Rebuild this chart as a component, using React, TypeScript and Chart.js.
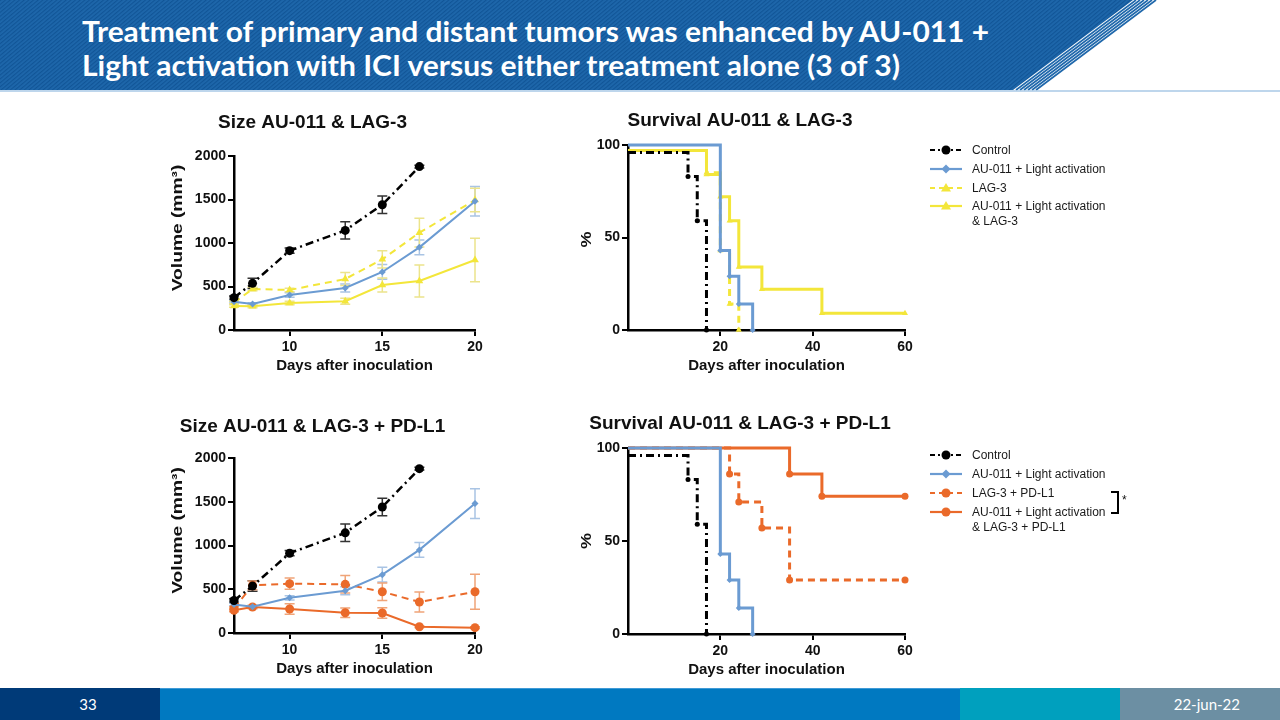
import React, { useEffect, useRef } from "react";
import { Chart, registerables } from "chart.js";

Chart.register(...registerables);

const FONT = "'Liberation Sans', Arial, sans-serif";
const SLIDE_FONT = "Lato, 'Open Sans', sans-serif";

// ---------- data ----------
const sizeDays = [7, 8, 10, 13, 15, 17, 20];
const sizeControl = [372, 536, 912, 1145, 1440, 1878];
const sizeControlErr = [20, 60, 30, 100, 100, 15];
const sizeAU = [326, 299, 402, 483, 667, 950, 1479];
const sizeAUErr = [15, 15, 25, 45, 85, 85, 170];
const sizeLAG3 = [315, 471, 460, 586, 812, 1119, 1494];
const sizeLAG3Err = [15, 20, 20, 75, 100, 165, 135];
const sizeAULAG3 = [276, 272, 310, 330, 517, 563, 805];
const sizeAULAG3Err = [15, 15, 20, 35, 80, 185, 250];
const sizeLAG3PDL1 = [285, 545, 564, 556, 472, 354, 472];
const sizeLAG3PDL1Err = [15, 50, 65, 100, 100, 115, 200];
const sizeAULAG3PDL1 = [259, 297, 274, 232, 229, 72, 61];
const sizeAULAG3PDL1Err = [15, 20, 60, 55, 60, 10, 10];

const survControlT = [0, 13, 15, 17];
const survControlP = [96, 83, 59, 0];
const survAUT = [0, 20, 22, 24, 27];
const survAUP = [100, 43, 29, 14, 0];
const survLAG3T = [0, 17, 20, 22, 24];
const survLAG3P = [97, 85, 43, 14, 0];
const survAULAG3T = [0, 17, 20, 22, 24, 29, 42, 60];
const survAULAG3P = [97, 84, 72, 59, 34, 22, 9, 9];
const survLAG3PDL1T = [0, 22, 24, 29, 35, 60];
const survLAG3PDL1P = [100, 86, 71, 57, 29, 29];
const survAULAG3PDL1T = [0, 35, 42, 60];
const survAULAG3PDL1P = [100, 86, 74, 74];

const sizeXTicks = [10, 15, 20];
const sizeYTicks = [0, 500, 1000, 1500, 2000];
const survXTicks = [20, 40, 60];
const survYTicks = [0, 50, 100];

const legendTop = ["Control", "AU-011 + Light activation", "LAG-3", "AU-011 + Light activation\n& LAG-3"];
const legendBottom = ["Control", "AU-011 + Light activation", "LAG-3 + PD-L1", "AU-011 + Light activation\n& LAG-3 + PD-L1"];

const titleLines = [
  "Treatment of primary and distant tumors was enhanced by AU-011 +",
  "Light activation with ICI versus either treatment alone (3 of 3)",
];

// ---------- styles ----------
const BLACK = "#000000";
const BLUE = "#6b9bd2";
const BLUE_ERR = "#a9c4e4";
const YELLOW = "#f3e63a";
const YELLOW_ERR = "#ece48c";
const ORANGE = "#ea6a2a";
const ORANGE_ERR = "#f0a478";
const DASHDOT = [8, 4, 2, 4];

const xy = (xs: number[], ys: number[]) => ys.map((y, i) => ({ x: xs[i], y }));

const errorBarPlugin = {
  id: "errorBars",
  beforeDatasetsDraw(chart: any) {
    const ctx = chart.ctx;
    const yScale = chart.scales.y;
    chart.data.datasets.forEach((ds: any, i: number) => {
      if (!ds.errors) return;
      const meta = chart.getDatasetMeta(i);
      ctx.save();
      ctx.strokeStyle = ds.errorColor;
      ctx.lineWidth = 1.5;
      meta.data.forEach((pt: any, j: number) => {
        const e = ds.errors[j];
        if (!e) return;
        const v = ds.data[j].y;
        const top = yScale.getPixelForValue(v + e);
        const bot = yScale.getPixelForValue(v - e);
        ctx.beginPath();
        ctx.moveTo(pt.x, top);
        ctx.lineTo(pt.x, bot);
        ctx.moveTo(pt.x - 5, top);
        ctx.lineTo(pt.x + 5, top);
        ctx.moveTo(pt.x - 5, bot);
        ctx.lineTo(pt.x + 5, bot);
        ctx.stroke();
      });
      ctx.restore();
    });
  },
};

const yTitlePlugin = {
  id: "yTitle",
  afterDraw(chart: any, _args: any, opts: any) {
    if (!opts || !opts.text) return;
    const { ctx, chartArea } = chart;
    ctx.save();
    ctx.translate(opts.x, (chartArea.top + chartArea.bottom) / 2 + (opts.shift || 0));
    ctx.rotate(-Math.PI / 2);
    ctx.scale(opts.stretch || 1, 1);
    ctx.font = `bold ${opts.size}px ${FONT}`;
    ctx.fillStyle = "#111";
    ctx.textAlign = "center";
    ctx.textBaseline = "middle";
    ctx.fillText(opts.text, 0, 0);
    ctx.restore();
  },
};

type Frame = {
  left: number; top: number; width: number;
  plotLeft: number; plotTop: number; plotRight: number; plotBottom: number;
  titleY: number;
};

const X_AXIS_H = 50;
const TITLE_SIZE = 19;

function frameHeight(f: Frame) {
  return f.plotBottom - f.top + X_AXIS_H;
}

function buildOptions(
  f: Frame, title: string,
  xMin: number, xMax: number, xTicks: number[],
  yMin: number, yMax: number, yTicks: number[],
  yTitle: any
) {
  const lh = TITLE_SIZE * 1.2;
  const padTop = f.titleY - f.top - lh / 2;
  const padBottom = f.plotTop - f.top - padTop - lh;
  const yAxisW = f.plotLeft - f.left;
  const padRight = f.left + f.width - f.plotRight;
  const tickFont = { family: FONT, size: 14, weight: "bold" as const };
  const grid = { drawOnChartArea: false, drawTicks: true, tickLength: 6, color: "#000", lineWidth: 2 };
  const border = { display: true, color: "#000", width: 2.5 };
  return {
    responsive: true,
    maintainAspectRatio: false,
    animation: false,
    layout: { padding: { left: 0, right: padRight, top: 0, bottom: 0 } },
    plugins: {
      legend: { display: false },
      tooltip: { enabled: false },
      title: {
        display: true,
        text: title,
        color: "#111",
        font: { family: FONT, size: TITLE_SIZE, weight: "bold" },
        padding: { top: padTop, bottom: padBottom },
      },
      yTitle,
    },
    scales: {
      x: {
        type: "linear",
        min: xMin,
        max: xMax,
        afterBuildTicks: (s: any) => { s.ticks = xTicks.map((v) => ({ value: v })); },
        afterFit: (s: any) => { s.height = X_AXIS_H; s.paddingLeft = 0; s.paddingRight = 0; },
        grid, border,
        ticks: { font: tickFont, color: "#111", padding: 3, maxRotation: 0, autoSkip: false, callback: (v: any) => String(v) },
        title: {
          display: true,
          text: "Days after inoculation",
          color: "#111",
          font: { family: FONT, size: 15, weight: "bold" },
          padding: { top: 0, bottom: 5 },
        },
      },
      y: {
        type: "linear",
        min: yMin,
        max: yMax,
        afterBuildTicks: (s: any) => { s.ticks = yTicks.map((v) => ({ value: v })); },
        afterFit: (s: any) => { s.width = yAxisW; s.paddingTop = 0; s.paddingBottom = 0; },
        grid, border,
        ticks: { font: tickFont, color: "#111", padding: 2, autoSkip: false, callback: (v: any) => String(v) },
      },
    },
  };
}

function ChartBox({ frame, makeConfig }: { frame: Frame; makeConfig: () => any }) {
  const ref = useRef<HTMLCanvasElement | null>(null);
  useEffect(() => {
    if (!ref.current) return;
    const chart = new Chart(ref.current, makeConfig());
    return () => chart.destroy();
  }, []);
  return (
    <div style={{ position: "absolute", left: frame.left, top: frame.top, width: frame.width, height: frameHeight(frame) }}>
      <canvas ref={ref} />
    </div>
  );
}

// ---------- layout frames ----------
const frameSize1: Frame = { left: 150, top: 100, width: 408, plotLeft: 234, plotTop: 156, plotRight: 475, plotBottom: 330, titleY: 123 };
const frameSize2: Frame = { left: 150, top: 403, width: 410, plotLeft: 234, plotTop: 458, plotRight: 475, plotBottom: 633, titleY: 427 };
const frameSurv1: Frame = { left: 575, top: 95, width: 384, plotLeft: 628, plotTop: 145, plotRight: 905, plotBottom: 330, titleY: 121 };
const frameSurv2: Frame = { left: 575, top: 398, width: 384, plotLeft: 628, plotTop: 448, plotRight: 905, plotBottom: 634, titleY: 423.5 };

const sizeYTitle = (f: Frame) => ({ text: "Volume (mm³)", x: 178 - f.left, shift: -15, stretch: 1.28, size: 15 });
const survYTitle = (f: Frame, shift: number) => ({ text: "%", x: 587 - f.left, shift, stretch: 1.2, size: 15 });

function sizeLine(label: string, ys: number[], errs: number[], color: string, errColor: string, dash: number[], style: string, r: number, order: number, width = 2) {
  return {
    label,
    data: xy(sizeDays, ys),
    errors: errs,
    errorColor: errColor,
    borderColor: color,
    backgroundColor: color,
    borderWidth: width,
    borderDash: dash,
    pointStyle: style,
    pointRadius: r,
    pointBorderWidth: 0,
    pointBackgroundColor: color,
    clip: false,
    order,
  };
}

function survLine(label: string, xs: number[], ys: number[], color: string, dash: number[], style: string, r: number, order: number) {
  return {
    label,
    data: xy(xs, ys),
    borderColor: color,
    backgroundColor: color,
    borderWidth: 3,
    borderDash: dash,
    stepped: "before",
    pointStyle: style,
    pointRadius: (c: any) => (c.dataIndex === 0 ? 0 : r),
    pointBorderWidth: 0,
    pointBackgroundColor: color,
    clip: false,
    order,
  };
}

const configSize1 = () => ({
  type: "line",
  data: {
    datasets: [
      sizeLine("Control", sizeControl, sizeControlErr, BLACK, "#333", DASHDOT, "circle", 4.5, 0, 2.5),
      sizeLine("AU-011 + Light activation", sizeAU, sizeAUErr, BLUE, BLUE_ERR, [], "rectRot", 3.5, 1),
      sizeLine("LAG-3", sizeLAG3, sizeLAG3Err, YELLOW, YELLOW_ERR, [7, 5], "triangle", 4.5, 2),
      sizeLine("AU-011 + Light activation & LAG-3", sizeAULAG3, sizeAULAG3Err, YELLOW, YELLOW_ERR, [], "triangle", 4.5, 3),
    ],
  },
  options: buildOptions(frameSize1, "Size AU-011 & LAG-3", 7, 20, sizeXTicks, 0, 2000, sizeYTicks, sizeYTitle(frameSize1)),
  plugins: [errorBarPlugin, yTitlePlugin],
});

const configSize2 = () => ({
  type: "line",
  data: {
    datasets: [
      sizeLine("Control", sizeControl, sizeControlErr, BLACK, "#333", DASHDOT, "circle", 4.5, 0, 2.5),
      sizeLine("AU-011 + Light activation", sizeAU, sizeAUErr, BLUE, BLUE_ERR, [], "rectRot", 3.5, 1),
      sizeLine("LAG-3 + PD-L1", sizeLAG3PDL1, sizeLAG3PDL1Err, ORANGE, ORANGE_ERR, [7, 5], "circle", 4.5, 2),
      sizeLine("AU-011 + Light activation & LAG-3 + PD-L1", sizeAULAG3PDL1, sizeAULAG3PDL1Err, ORANGE, ORANGE_ERR, [], "circle", 4.5, 3),
    ],
  },
  options: buildOptions(frameSize2, "Size AU-011 & LAG-3 + PD-L1", 7, 20, sizeXTicks, 0, 2000, sizeYTicks, sizeYTitle(frameSize2)),
  plugins: [errorBarPlugin, yTitlePlugin],
});

const configSurv1 = () => ({
  type: "line",
  data: {
    datasets: [
      survLine("Control", survControlT, survControlP, BLACK, DASHDOT, "circle", 2.5, 0),
      survLine("AU-011 + Light activation", survAUT, survAUP, BLUE, [], "rectRot", 3, 1),
      survLine("LAG-3", survLAG3T, survLAG3P, YELLOW, [7, 5], "triangle", 3.5, 2),
      survLine("AU-011 + Light activation & LAG-3", survAULAG3T, survAULAG3P, YELLOW, [], "triangle", 3.5, 3),
    ],
  },
  options: buildOptions(frameSurv1, "Survival AU-011 & LAG-3", 0, 60, survXTicks, 0, 100, survYTicks, survYTitle(frameSurv1, 2)),
  plugins: [yTitlePlugin],
});

const configSurv2 = () => ({
  type: "line",
  data: {
    datasets: [
      survLine("Control", survControlT, survControlP, BLACK, DASHDOT, "circle", 2.5, 0),
      survLine("AU-011 + Light activation", survAUT, survAUP, BLUE, [], "rectRot", 3, 1),
      survLine("LAG-3 + PD-L1", survLAG3PDL1T, survLAG3PDL1P, ORANGE, [7, 5], "circle", 3.5, 2),
      survLine("AU-011 + Light activation & LAG-3 + PD-L1", survAULAG3PDL1T, survAULAG3PDL1P, ORANGE, [], "circle", 3.5, 3),
    ],
  },
  options: buildOptions(frameSurv2, "Survival AU-011 & LAG-3 + PD-L1", 0, 60, survXTicks, 0, 100, survYTicks, survYTitle(frameSurv2, 0)),
  plugins: [yTitlePlugin],
});

// ---------- legend ----------
type Sym = { color: string; dash: string; marker: "circle" | "diamond" | "triangle" };

function LegendSymbol({ sym }: { sym: Sym }) {
  const cx = 17, cy = 7;
  let m: any;
  if (sym.marker === "circle") m = <circle cx={cx} cy={cy} r={4.5} fill={sym.color} />;
  else if (sym.marker === "diamond")
    m = <polygon points={`${cx},${cy - 4.5} ${cx + 4.5},${cy} ${cx},${cy + 4.5} ${cx - 4.5},${cy}`} fill={sym.color} />;
  else m = <polygon points={`${cx},${cy - 5} ${cx + 5},${cy + 3.5} ${cx - 5},${cy + 3.5}`} fill={sym.color} />;
  return (
    <svg width={34} height={14} style={{ display: "block" }}>
      <line x1={1} y1={cy} x2={33} y2={cy} stroke={sym.color} strokeWidth={2.2} strokeDasharray={sym.dash} />
      {m}
    </svg>
  );
}

function Legend({ labels, syms, ys }: { labels: string[]; syms: Sym[]; ys: number[] }) {
  return (
    <>
      {labels.map((lab, i) => (
        <React.Fragment key={i}>
          <div style={{ position: "absolute", left: 929, top: ys[i] - 7 }}>
            <LegendSymbol sym={syms[i]} />
          </div>
          {lab.split("\n").map((line, k) => (
            <div
              key={k}
              style={{
                position: "absolute", left: 972, top: ys[i] - 8 + k * 15, height: 16, lineHeight: "16px",
                fontFamily: FONT, fontSize: 12, color: "#1a1a1a", whiteSpace: "nowrap",
              }}
            >
              {line}
            </div>
          ))}
        </React.Fragment>
      ))}
    </>
  );
}

const symsTop: Sym[] = [
  { color: BLACK, dash: "5 3 2 3", marker: "circle" },
  { color: BLUE, dash: "", marker: "diamond" },
  { color: YELLOW, dash: "5 4", marker: "triangle" },
  { color: YELLOW, dash: "", marker: "triangle" },
];
const symsBottom: Sym[] = [
  { color: BLACK, dash: "5 3 2 3", marker: "circle" },
  { color: BLUE, dash: "", marker: "diamond" },
  { color: ORANGE, dash: "5 4", marker: "circle" },
  { color: ORANGE, dash: "", marker: "circle" },
];

// ---------- slide chrome ----------
function Header() {
  const stripes = [0, 1, 2, 3, 4, 5];
  return (
    <svg width={1280} height={94} style={{ position: "absolute", left: 0, top: 0 }}>
      <defs>
        <pattern id="hatch" width="3" height="3" patternUnits="userSpaceOnUse" patternTransform="rotate(-40)">
          <rect width="3" height="3" fill="#1e67ab" />
          <rect width="3" height="1.2" fill="#115597" />
        </pattern>
      </defs>
      <polygon points="0,0 1133,0 1013,90 0,90" fill="url(#hatch)" />
      {stripes.map((i) => (
        <line key={i} x1={1136 + i * 4} y1={0} x2={1016 + i * 4} y2={90} stroke="#1e67ab" strokeWidth={1.7} />
      ))}
      <line x1={0} y1={91} x2={1280} y2={91} stroke="#a9c9e6" strokeWidth={1.5} />
      <text x={82} y={42} fill="#ffffff" fontFamily={SLIDE_FONT} fontWeight={700} fontSize={28} textLength={907} lengthAdjust="spacingAndGlyphs">
        {titleLines[0]}
      </text>
      <text x={82} y={76} fill="#ffffff" fontFamily={SLIDE_FONT} fontWeight={700} fontSize={28} textLength={818} lengthAdjust="spacingAndGlyphs">
        {titleLines[1]}
      </text>
    </svg>
  );
}

function Footer() {
  const seg = (left: number, width: number, bg: string) => (
    <div style={{ position: "absolute", left, top: 688, width, height: 32, background: bg }} />
  );
  return (
    <>
      {seg(0, 160, "#003a78")}
      {seg(160, 800, "#0079c1")}
      {seg(960, 160, "#00a0be")}
      {seg(1120, 160, "#6c8fa3")}
      <div style={{ position: "absolute", left: 160, top: 688, width: 800, height: 1, background: "#3f9ad6" }} />
      <div style={{ position: "absolute", left: 58, top: 688, width: 60, height: 32, lineHeight: "32px", textAlign: "center", color: "#fff", fontFamily: SLIDE_FONT, fontSize: 15 }}>
        33
      </div>
      <div style={{ position: "absolute", left: 1120, top: 688, width: 120, height: 32, lineHeight: "32px", textAlign: "right", color: "#fff", fontFamily: SLIDE_FONT, fontSize: 15 }}>
        22-jun-22
      </div>
    </>
  );
}

export default function App() {
  return (
    <div style={{ position: "fixed", left: 0, top: 0, width: 1280, height: 720, background: "#fff", overflow: "hidden" }}>
      <Header />
      <ChartBox frame={frameSize1} makeConfig={configSize1} />
      <ChartBox frame={frameSize2} makeConfig={configSize2} />
      <ChartBox frame={frameSurv1} makeConfig={configSurv1} />
      <ChartBox frame={frameSurv2} makeConfig={configSurv2} />
      <Legend labels={legendTop} syms={symsTop} ys={[150, 169, 187.5, 206]} />
      <Legend labels={legendBottom} syms={symsBottom} ys={[455, 473.5, 493, 511.5]} />
      <svg width={30} height={30} style={{ position: "absolute", left: 1108, top: 488 }}>
        <path d="M3,4 H10 V25 H3" fill="none" stroke="#000" strokeWidth={2} />
      </svg>
      <div style={{ position: "absolute", left: 1122, top: 493, fontFamily: FONT, fontSize: 12, color: "#111" }}>*</div>
      <Footer />
    </div>
  );
}
